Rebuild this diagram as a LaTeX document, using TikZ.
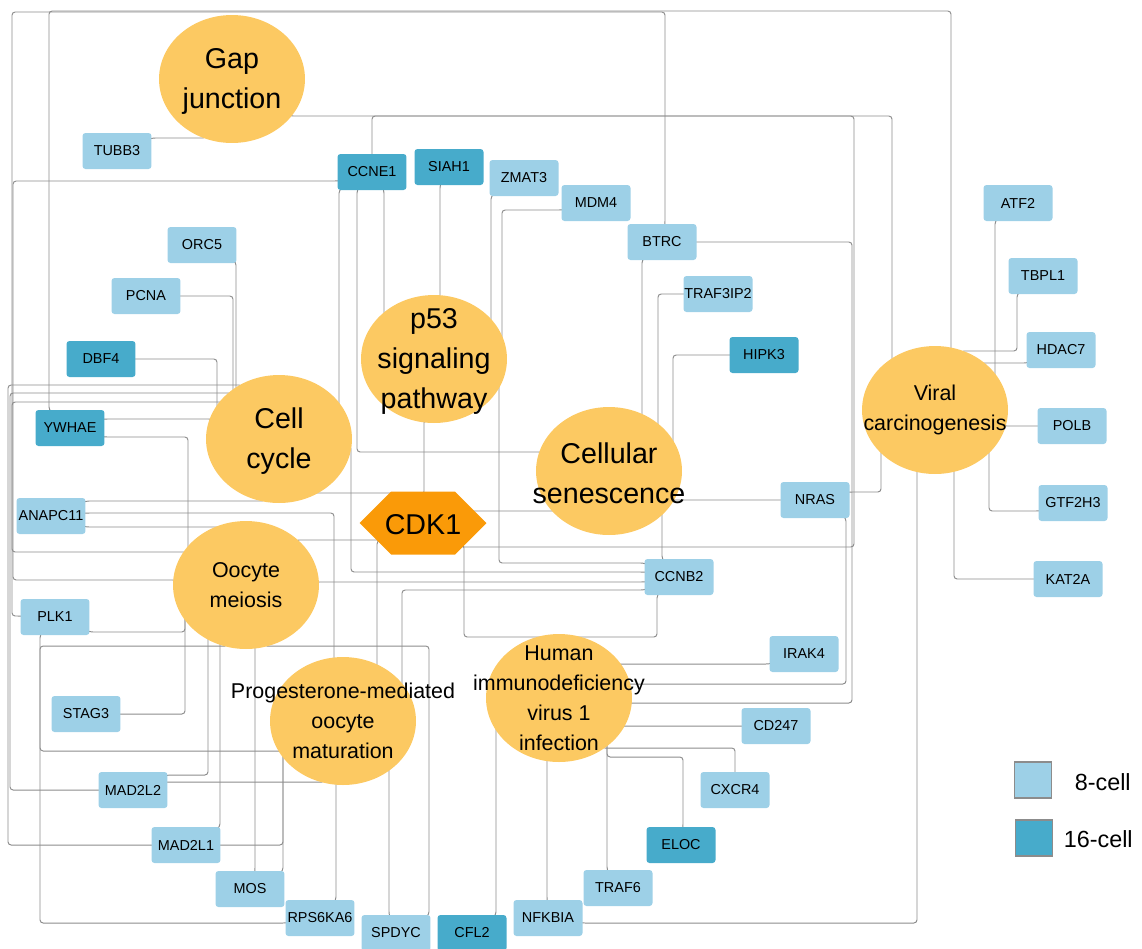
\documentclass[tikz,border=0pt]{standalone}
\usepackage{fontspec}
\setmainfont{Liberation Sans}
\usetikzlibrary{shapes.geometric,shapes.symbols,backgrounds}
\definecolor{lowcell}{HTML}{9DD0E7}
\definecolor{highcell}{HTML}{47ABCB}
\definecolor{pathfill}{HTML}{FCC962}
\definecolor{hubfill}{HTML}{FA9A08}
\definecolor{linkgray}{HTML}{8C8C8C}

\begin{document}
\begin{tikzpicture}[x=0.02cm,y=-0.02cm,
    gene node/.style={rectangle,rounded corners=1.7pt,minimum width=1.38cm,minimum height=0.72cm,inner sep=0pt,font=\fontsize{8.2}{9.8}\selectfont},
    low node/.style={gene node,fill=lowcell},
    high node/.style={gene node,fill=highcell},
    path node/.style={ellipse,fill=pathfill,minimum width=2.92cm,minimum height=2.56cm,inner sep=0pt},
    hub node/.style={signal,signal to=east and west,signal pointer angle=90,fill=hubfill,minimum width=2.54cm,minimum height=1.26cm,inner sep=0pt},
    big label/.style={align=center,inner sep=0pt,yshift=-1.2pt,font=\fontsize{16.3}{22.7}\selectfont},
    small label/.style={align=center,inner sep=0pt,font=\fontsize{12.2}{17}\selectfont},
    key node/.style={rectangle,draw=linkgray,line width=0.6pt,minimum width=0.74cm,minimum height=0.72cm},
    link/.style={draw=linkgray,line width=0.55pt,rounded corners=1.8pt}]
    \useasboundingbox (0,0) rectangle (1142,948);

    \node[path node,label={[big label]center:Gap\\junction}] (gap) at (232,79) {};
    \node[path node,label={[big label]center:p53\\signaling\\pathway}] (p53) at (434,359) {};
    \node[path node,label={[big label]center:Cell\\cycle}] (cc) at (279,439) {};
    \node[path node,label={[big label]center:Cellular\\senescence}] (sen) at (609,471) {};
    \node[path node,label={[small label]center:Oocyte\\meiosis}] (oo) at (246,585) {};
    \node[path node,label={[small label]center:Progesterone-mediated\\oocyte\\maturation}] (prog) at (343,721) {};
    \node[path node,label={[small label]center:Human\\immunodeficiency\\virus 1\\infection}] (hiv) at (559,698) {};
    \node[path node,label={[small label]center:Viral\\carcinogenesis}] (viral) at (935,410) {};
    \node[hub node,label={[big label]center:CDK1}] (cdk) at (423,523) {};

    \node[low node] (tubb) at (117,151) {TUBB3};
    \node[high node] (ccne) at (372,172) {CCNE1};
    \node[high node] (siah) at (449,167) {SIAH1};
    \node[low node] (zmat) at (524,178) {ZMAT3};
    \node[low node] (mdm) at (596,203) {MDM4};
    \node[low node] (btrc) at (662,242) {BTRC};
    \node[low node] (traf3) at (718,294) {TRAF3IP2};
    \node[low node] (orc) at (202,245) {ORC5};
    \node[low node] (pcna) at (146,296) {PCNA};
    \node[high node] (dbf) at (101,359) {DBF4};
    \node[high node] (ywhae) at (70,428) {YWHAE};
    \node[high node] (hipk) at (764,355) {HIPK3};
    \node[low node] (atf) at (1018,203) {ATF2};
    \node[low node] (tbpl) at (1043,276) {TBPL1};
    \node[low node] (hdac) at (1061,350) {HDAC7};
    \node[low node] (polb) at (1072,426) {POLB};
    \node[low node] (gtf) at (1073,503) {GTF2H3};
    \node[low node] (kat) at (1068,579) {KAT2A};
    \node[low node] (nras) at (815,500) {NRAS};
    \node[low node] (anapc) at (51,516) {ANAPC11};
    \node[low node] (ccnb) at (679,577) {CCNB2};
    \node[low node] (plk) at (55,617) {PLK1};
    \node[low node] (irak) at (804,654) {IRAK4};
    \node[low node] (cd) at (776,726) {CD247};
    \node[low node] (cxcr) at (735,790) {CXCR4};
    \node[high node] (eloc) at (681,845) {ELOC};
    \node[low node] (traf6) at (618,888) {TRAF6};
    \node[low node] (nfkbia) at (548,918) {NFKBIA};
    \node[high node] (cfl) at (472,933) {CFL2};
    \node[low node] (spdyc) at (396,933) {SPDYC};
    \node[low node] (rps) at (320,918) {RPS6KA6};
    \node[low node] (mos) at (250,889) {MOS};
    \node[low node] (madl1) at (186,845) {MAD2L1};
    \node[low node] (madl2) at (133,790) {MAD2L2};
    \node[low node] (stag) at (86,714) {STAG3};

    \node[key node,fill=lowcell] (keylow) at (1033,780) {};
    \node[key node,fill=highcell] (keyhigh) at (1034,838) {};
    \node[anchor=east,inner sep=0pt,font=\fontsize{13.3}{16}\selectfont] (keylowtext) at (1131,782) {8-cell};
    \node[anchor=east,inner sep=0pt,font=\fontsize{13.3}{16}\selectfont] (keyhightext) at (1133,839) {16-cell};

    \begin{pgfonlayer}{background}
        \draw[link] (ywhae.center) -- (49,410) -- (49,11) -- (951,11) -- (951,352) -- (viral.center);
        \draw[link] (btrc.center) -- (665,224) -- (665,12) -- (12,12) -- (12,552) -- (190,552) -- (oo.center);
        \draw[link] (ccne.center) -- (338,181) -- (13,181) -- (13,580) -- (176,580) -- (oo.center);
        \draw[link] (gap.center) -- (290,116) -- (854,116) -- (854,547) -- (461,547) -- (cdk.center);
        \draw[link] (ccne.center) -- (372,154) -- (372,116) -- (892,116) -- (892,370) -- (viral.center);
        \draw[link] (tubb.center) -- (152,138) -- (206,138) -- (gap.center);
        \draw[link] (ccne.center) -- (339,190) -- (339,410) -- (cc.center);
        \draw[link] (ccne.center) -- (357,190) -- (357,452) -- (542,452) -- (sen.center);
        \draw[link] (ccne.center) -- (384,190) -- (384,320) -- (p53.center);
        \draw[link] (siah.center) -- (440,185) -- (440,300) -- (p53.center);
        \draw[link] (zmat.center) -- (491,196) -- (491,325) -- (p53.center);
        \draw[link] (mdm.center) -- (562,210) -- (502,210) -- (502,360) -- (p53.center);
        \draw[link] (btrc.center) -- (697,242) -- (852,242) -- (852,703) -- (628,703) -- (hiv.center);
        \draw[link] (btrc.center) -- (642,260) -- (642,420) -- (sen.center);
        \draw[link] (traf3.center) -- (684,294) -- (658,294) -- (658,428) -- (sen.center);
        \draw[link] (hipk.center) -- (730,355) -- (673,355) -- (673,445) -- (sen.center);
        \draw[link] (nras.center) -- (780,500) -- (672,500) -- (sen.center);
        \draw[link] (nras.center) -- (849,492) -- (881,492) -- (881,450) -- (viral.center);
        \draw[link] (nras.center) -- (846,518) -- (846,684) -- (626,684) -- (hiv.center);
        \draw[link] (irak.center) -- (769,664) -- (618,664) -- (hiv.center);
        \draw[link] (cd.center) -- (741,726) -- (620,726) -- (hiv.center);
        \draw[link] (cxcr.center) -- (735,772) -- (735,748) -- (602,748) -- (hiv.center);
        \draw[link] (eloc.center) -- (683,827) -- (683,757) -- (607,757) -- (607,742) -- (hiv.center);
        \draw[link] (traf6.center) -- (607,870) -- (607,742) -- (hiv.center);
        \draw[link] (nfkbia.center) -- (547,900) -- (547,755) -- (hiv.center);
        \draw[link] (nfkbia.center) -- (582,923) -- (917,923) -- (917,465) -- (viral.center);
        \draw[link] (cfl.center) -- (496,915) -- (496,725) -- (hiv.center);
        \draw[link] (atf.center) -- (995,221) -- (995,380) -- (viral.center);
        \draw[link] (tbpl.center) -- (1017,294) -- (1017,351) -- (961,351) -- (viral.center);
        \draw[link] (hdac.center) -- (1027,363) -- (982,363) -- (viral.center);
        \draw[link] (polb.center) -- (1037,426) -- (1004,426) -- (viral.center);
        \draw[link] (gtf.center) -- (1039,511) -- (989,511) -- (989,450) -- (viral.center);
        \draw[link] (kat.center) -- (1034,579) -- (954,579) -- (954,468) -- (viral.center);
        \draw[link] (cdk.center) -- (424,492) -- (424,420) -- (p53.center);
        \draw[link] (cc.center) -- (314,493) -- (393,493) -- (cdk.center);
        \draw[link] (cdk.center) -- (470,511) -- (555,511) -- (sen.center);
        \draw[link] (oo.center) -- (296,540) -- (380,540) -- (cdk.center);
        \draw[link] (cdk.center) -- (377,541) -- (377,668) -- (prog.center);
        \draw[link] (cdk.center) -- (464,545) -- (464,637) -- (545,637) -- (hiv.center);
        \draw[link] (ccnb.center) -- (657,595) -- (657,637) -- (575,637) -- (hiv.center);
        \draw[link] (ccnb.center) -- (644,563) -- (499,563) -- (499,375) -- (p53.center);
        \draw[link] (ccnb.center) -- (644,572) -- (351,572) -- (351,446) -- (cc.center);
        \draw[link] (ccnb.center) -- (644,582) -- (316,582) -- (oo.center);
        \draw[link] (ccnb.center) -- (644,590) -- (402,590) -- (402,688) -- (prog.center);
        \draw[link] (ccnb.center) -- (662,559) -- (662,512) -- (sen.center);
        \draw[link] (orc.center) -- (236,262) -- (236,392) -- (cc.center);
        \draw[link] (pcna.center) -- (181,296) -- (233,296) -- (233,395) -- (cc.center);
        \draw[link] (dbf.center) -- (136,359) -- (217,359) -- (217,410) -- (cc.center);
        \draw[link] (ywhae.center) -- (104,419) -- (212,419) -- (cc.center);
        \draw[link] (ywhae.center) -- (104,437) -- (188,437) -- (188,550) -- (oo.center);
        \draw[link] (anapc.center) -- (86,501) -- (265,501) -- (cc.center);
        \draw[link] (anapc.center) -- (86,513) -- (334,513) -- (334,662) -- (prog.center);
        \draw[link] (anapc.center) -- (86,527) -- (220,527) -- (oo.center);
        \draw[link] (plk.center) -- (21,616) -- (12,616) -- (12,402) -- (222,402) -- (cc.center);
        \draw[link] (madl2.center) -- (99,790) -- (10,790) -- (10,393) -- (231,393) -- (cc.center);
        \draw[link] (madl1.center) -- (152,845) -- (8,845) -- (8,385) -- (242,385) -- (cc.center);
        \draw[link] (plk.center) -- (90,632) -- (185,632) -- (185,615) -- (oo.center);
        \draw[link] (rps.center) -- (286,923) -- (40,923) -- (40,646) -- (228,646) -- (oo.center);
        \draw[link] (spdyc.center) -- (429,915) -- (429,646) -- (264,646) -- (oo.center);
        \draw[link] (spdyc.center) -- (389,915) -- (389,768) -- (prog.center);
        \draw[link] (rps.center) -- (336,900) -- (336,780) -- (prog.center);
        \draw[link] (stag.center) -- (120,714) -- (185,714) -- (185,615) -- (oo.center);
        \draw[link] (plk.center) -- (40,635) -- (40,751) -- (282,751) -- (prog.center);
        \draw[link] (madl2.center) -- (167,775) -- (208,775) -- (208,636) -- (oo.center);
        \draw[link] (madl2.center) -- (167,782) -- (325,782) -- (prog.center);
        \draw[link] (madl1.center) -- (220,827) -- (220,640) -- (oo.center);
        \draw[link] (madl1.center) -- (221,845) -- (283,845) -- (283,752) -- (prog.center);
        \draw[link] (mos.center) -- (255,871) -- (255,644) -- (oo.center);
        \draw[link] (mos.center) -- (283,871) -- (283,752) -- (prog.center);
    \end{pgfonlayer}
\end{tikzpicture}
\end{document}
